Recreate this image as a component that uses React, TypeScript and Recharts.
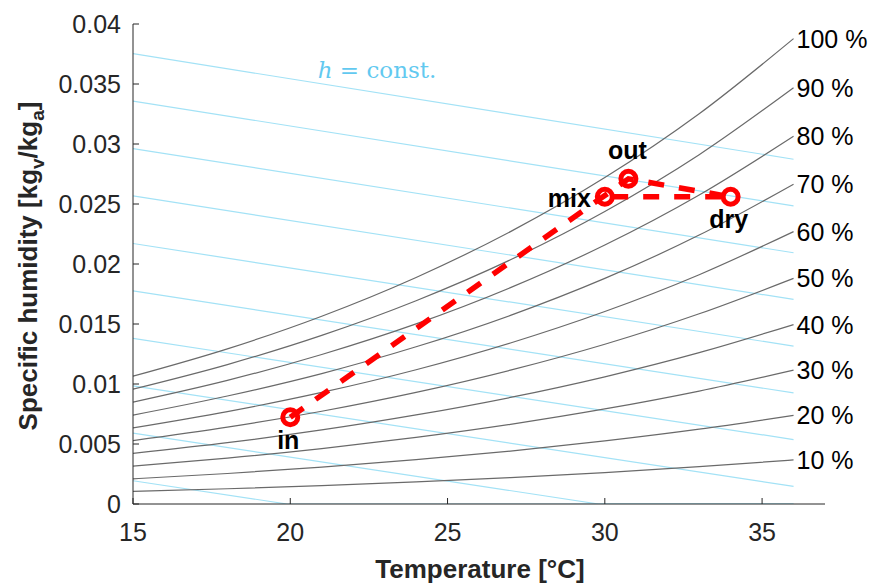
import React from "react";
import { LineChart, Line, XAxis, YAxis, LabelList } from "recharts";

// temperatures at which the RH curves were read [°C]
const TEMPS = [15, 18, 21, 24, 27, 30, 33, 36];

// specific humidity [kg_v/kg_a] along each relative humidity curve
const RH10 = [0.00105, 0.00127, 0.00153, 0.00184, 0.0022, 0.00262, 0.00311, 0.00367];
const RH20 = [0.0021, 0.00254, 0.00307, 0.00369, 0.00441, 0.00526, 0.00624, 0.00739];
const RH30 = [0.00316, 0.00382, 0.00461, 0.00555, 0.00664, 0.00792, 0.00941, 0.01115];
const RH40 = [0.00422, 0.00511, 0.00617, 0.00742, 0.00888, 0.0106, 0.01261, 0.01495];
const RH50 = [0.00528, 0.0064, 0.00773, 0.0093, 0.01115, 0.01331, 0.01585, 0.0188];
const RH60 = [0.00634, 0.0077, 0.0093, 0.01119, 0.01342, 0.01604, 0.01911, 0.0227];
const RH70 = [0.00741, 0.009, 0.01087, 0.0131, 0.01572, 0.0188, 0.02241, 0.02665];
const RH80 = [0.00849, 0.0103, 0.01246, 0.01501, 0.01803, 0.02158, 0.02575, 0.03064];
const RH90 = [0.00957, 0.01162, 0.01405, 0.01694, 0.02035, 0.02438, 0.02911, 0.03469];
const RH100 = [0.01065, 0.01293, 0.01565, 0.01888, 0.0227, 0.0272, 0.03252, 0.03878];

const RH_LEVELS = [10, 20, 30, 40, 50, 60, 70, 80, 90, 100];
const RH_CURVES = [RH10, RH20, RH30, RH40, RH50, RH60, RH70, RH80, RH90, RH100];

// constant enthalpy lines [kJ/kg]: humidity at 15 °C and at 36 °C,
// and where a line reaches zero humidity inside the range
const H_LEVELS = [20, 30, 40, 50, 60, 70, 80, 90, 100, 110];
const H_W_AT_15 = [0.00194, 0.0059, 0.00985, 0.0138, 0.01776, 0.02171, 0.02567, 0.02962, 0.03358, 0.03753];
const H_W_AT_36 = [0, 0, 0.00147, 0.00537, 0.00926, 0.01316, 0.01705, 0.02094, 0.02484, 0.02873];
const H_T_ZERO = [19.9, 29.8, null, null, null, null, null, null, null, null];

// air states
const PROC_NAMES = ["in", "out", "dry", "mix"];
const PROC_T = [20, 30.75, 34, 30];
const PROC_W = [0.00723, 0.0271, 0.0256, 0.0256];

const X_TICKS = [15, 20, 25, 30, 35];
const Y_TICKS = [0, 0.005, 0.01, 0.015, 0.02, 0.025, 0.03, 0.035, 0.04];

const PLOT_LEFT = 133;
const PLOT_BOTTOM = 504;
const AXIS_COLOR = "#262626";
const FONT = "'Liberation Sans', Arial, Helvetica, sans-serif";

const rhRows = TEMPS.map((t, i) => {
  const row: { [key: string]: number } = { t };
  RH_LEVELS.forEach((lv, j) => {
    row["rh" + lv] = RH_CURVES[j][i];
  });
  return row;
});

const hLines = H_LEVELS.map((h, i) => {
  const pts = [{ t: 15, w: H_W_AT_15[i] }];
  if (H_T_ZERO[i] !== null) pts.push({ t: H_T_ZERO[i] as number, w: 0 });
  pts.push({ t: 36, w: H_W_AT_36[i] });
  return { h, pts };
});

const procRows = PROC_NAMES.map((name, i) => ({ name, t: PROC_T[i], w: PROC_W[i] }));

const XTick = (props: any) => {
  const { x, payload } = props;
  return (
    <g>
      <line x1={x} x2={x} y1={PLOT_BOTTOM} y2={PLOT_BOTTOM - 6} stroke={AXIS_COLOR} />
      <text x={x} y={541} textAnchor="middle" fontSize={25} fill={AXIS_COLOR} fontFamily={FONT}>
        {payload.value}
      </text>
    </g>
  );
};

const YTick = (props: any) => {
  const { y, payload } = props;
  return (
    <g>
      <line x1={PLOT_LEFT} x2={PLOT_LEFT + 6} y1={y} y2={y} stroke={AXIS_COLOR} />
      <text x={121} y={y + 9} textAnchor="end" fontSize={25} fill={AXIS_COLOR} fontFamily={FONT}>
        {String(Number(payload.value.toFixed(3)))}
      </text>
    </g>
  );
};

const rhLabel = (lv: number) => (props: any) => {
  const { x, y, index } = props;
  if (index !== TEMPS.length - 1) return null;
  return (
    <text x={x + 3} y={y + 9} fontSize={25} fill="#000" fontFamily={FONT}>
      {lv} %
    </text>
  );
};

// label offsets for the air states
const procLabelPos: { [key: string]: { dx: number; dy: number; anchor: string } } = {
  in: { dx: -2, dy: 32, anchor: "middle" },
  out: { dx: -1, dy: -20, anchor: "middle" },
  mix: { dx: -14, dy: 10, anchor: "end" },
  dry: { dx: -2, dy: 31, anchor: "middle" },
};

const procLabel = (props: any) => {
  const { x, y, index } = props;
  const name = PROC_NAMES[index];
  const p = procLabelPos[name];
  return (
    <text x={x + p.dx} y={y + p.dy} textAnchor={p.anchor} fontSize={25} fontWeight="bold" fill="#000" fontFamily={FONT}>
      {name}
    </text>
  );
};

const procDot = (props: any) => {
  const { cx, cy, index } = props;
  return <circle key={index} cx={cx} cy={cy} r={7.5} fill="none" stroke="#ff0000" strokeWidth={5} />;
};

export default function App() {
  return (
    <div style={{ width: 873, height: 584, background: "#fff" }}>
      <style>{`body{margin:0}`}</style>
      <LineChart width={873} height={584} data={rhRows} margin={{ top: 24, right: 48, left: 73, bottom: 40 }}>
        <XAxis
          dataKey="t"
          type="number"
          domain={[15, 37]}
          ticks={X_TICKS}
          allowDataOverflow
          height={40}
          stroke={AXIS_COLOR}
          tickLine={false}
          tick={<XTick />}
          label={{
            content: () => (
              <text x={480} y={578} textAnchor="middle" fontSize={26} fontWeight="bold" fill={AXIS_COLOR} fontFamily={FONT}>
                Temperature [°C]
              </text>
            ),
          }}
        />
        <YAxis
          type="number"
          domain={[0, 0.04]}
          ticks={Y_TICKS}
          allowDataOverflow
          width={60}
          stroke={AXIS_COLOR}
          tickLine={false}
          tick={<YTick />}
          label={{
            content: () => (
              <text
                x={37}
                y={266}
                transform="rotate(-90, 37, 266)"
                textAnchor="middle"
                fontSize={26}
                fontWeight="bold"
                fill={AXIS_COLOR}
                fontFamily={FONT}
              >
                Specific humidity [kg
                <tspan fontSize={19} dy={7}>v</tspan>
                <tspan dy={-7}>/kg</tspan>
                <tspan fontSize={19} dy={7}>a</tspan>
                <tspan dy={-7}>]</tspan>
              </text>
            ),
          }}
        />
        {hLines.map((hl) => (
          <Line
            key={"h" + hl.h}
            data={hl.pts}
            dataKey="w"
            type="linear"
            stroke="#a3e2f6"
            strokeWidth={1.2}
            dot={false}
            activeDot={false}
            isAnimationActive={false}
          />
        ))}
        {RH_LEVELS.map((lv) => (
          <Line
            key={"rh" + lv}
            dataKey={"rh" + lv}
            type="monotone"
            stroke="#6a6a6a"
            strokeWidth={1.2}
            dot={false}
            activeDot={false}
            isAnimationActive={false}
          >
            <LabelList dataKey={"rh" + lv} content={rhLabel(lv)} />
          </Line>
        ))}
        <Line
          data={procRows}
          dataKey="w"
          type="linear"
          stroke="#ff0000"
          strokeWidth={5.5}
          strokeDasharray="16 15"
          dot={procDot}
          activeDot={false}
          isAnimationActive={false}
        >
          <LabelList dataKey="name" content={procLabel} />
        </Line>
        <text x={377} y={78} textAnchor="middle" fontSize={23} fill="#62c9f0" fontFamily="'DejaVu Serif', 'Liberation Serif', serif">
          <tspan fontStyle="italic">h</tspan> = const.
        </text>
      </LineChart>
    </div>
  );
}
